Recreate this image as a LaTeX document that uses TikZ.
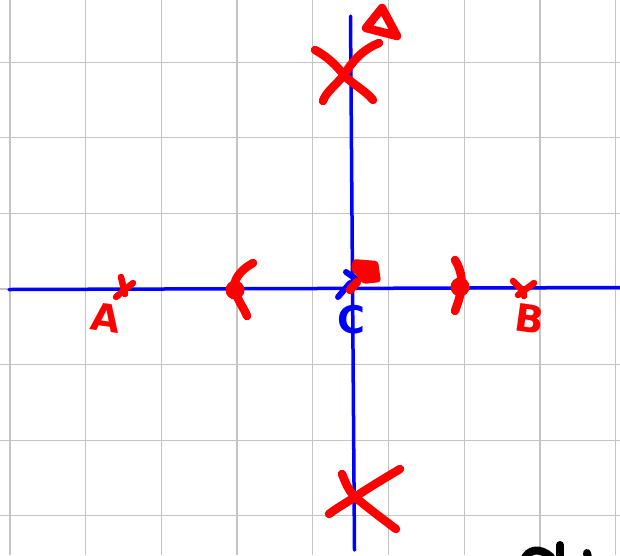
\documentclass[tikz,border=0pt]{standalone}
\usepackage{fontspec}
\usepackage{tikz}
\usetikzlibrary{positioning}
\newfontfamily\skhand{DejaVu Sans}[BoldFont={DejaVu Sans Bold}]
\definecolor{skgrid}{HTML}{C4C4C4}
\definecolor{skblue}{HTML}{0000FF}
\definecolor{skred}{HTML}{FF0000}
\tikzset{
  skgridline/.style={draw=skgrid, line width=1.3pt},
  skaxis/.style={draw=skblue, line width=3.5pt, line cap=round},
  skbluepen/.style={draw=skblue, line width=6pt, line cap=round},
  skink/.style={draw=skred, line width=8.5pt, line cap=round, line join=round},
  skthin/.style={skink, line width=6.5pt},
  skdot/.style={circle, fill=skred, inner sep=0pt, minimum size=19pt},
  sklabel/.style={font=\fontsize{38}{38}\selectfont\skhand\bfseries, text=skred, inner sep=0pt},
  skblack/.style={draw=black, line width=8pt, line cap=round},
}
\begin{document}
\begin{tikzpicture}[x=1pt,y=-1pt]
  \useasboundingbox (0,0) rectangle (620,555);
  \fill[white] (0,0) rectangle (620,555);
  \clip (0,0) rectangle (620,555);
  \foreach \gx in {0,...,8} \draw[skgridline] ({10+75.7*\gx},0) -- ++(0,555);
  \foreach \gy in {-3,...,3} \draw[skgridline] (0,{289+75.6*\gy}) -- ++(620,0);
  \draw[skaxis] (9,289.5) -- (620,287.5);
  \draw[skaxis] (350.5,16) -- (354.5,550);
  % top pole
  \draw[skink] (315,50) .. controls (330,58) and (338,68) .. (344,75) .. controls (352,84) and (365,90) .. (373,100);
  \draw[skink] (379,43) .. controls (366,48) and (354,58) .. (344,75) .. controls (336,85) and (326,92) .. (323,101);
  \draw[skink] (382,8) -- (366,28) -- (397,36) -- cycle;
  % bottom pole
  \draw[skink] (342,474) .. controls (346,484) and (349,491) .. (355,497) .. controls (368,508) and (384,520) .. (396,529);
  \draw[skink] (400,469) .. controls (385,478) and (368,488) .. (355,497) .. controls (344,504) and (334,510) .. (329,514);
  % A
  \draw[skthin] (121,277) -- (125,294);
  \draw[skthin] (133,283) -- (116,297);
  \node[sklabel, rotate=-8] (labA) at (106,318) {A};
  % left bracket
  \node[skdot] (dotL) at (235,290) {};
  \draw[skink] (253,263) .. controls (240,270) and (232,281) .. (235,290) .. controls (237,300) and (244,308) .. (247,316);
  % C
  \draw[skbluepen] (338,297) -- (350,283);
  \draw[skbluepen] (346,272) -- (356,279);
  \draw[skink] (350,290) -- (357,282);
  \fill[skred, rounded corners=3pt] (353,259) -- (378,261) -- (381,282) -- (363,284) -- (356,275) -- (351,270) -- cycle;
  \node[sklabel, text=skblue] (labC) at (351,320) {C};
  % right bracket
  \node[skdot] (dotR) at (460,287) {};
  \draw[skink] (455,260) .. controls (460,268) and (463,278) .. (461,290) .. controls (460,298) and (457,305) .. (455,311);
  % B
  \draw[skthin] (513,281) -- (523,291) -- (524,296);
  \draw[skthin] (534,283) -- (518,295);
  \node[sklabel, rotate=-8] (labB) at (530,319) {B};
  % cut-off writing
  \draw[skblack] (524,560) .. controls (528,549) and (540,547) .. (551,557);
  \draw[skblack] (560,545) -- (560,562);
  \draw[skblack] (587,553) -- (589,562);
\end{tikzpicture}
\end{document}
